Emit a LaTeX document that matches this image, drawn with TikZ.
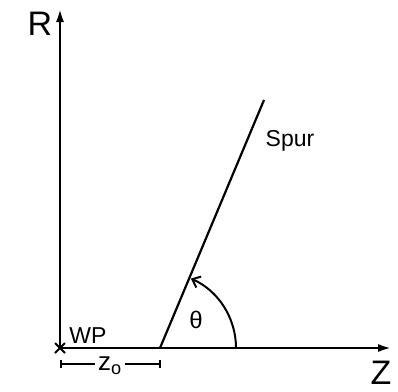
\documentclass[tikz,border=0pt]{standalone}
\usepackage{fontspec}
\setmainfont{Liberation Sans}
\usetikzlibrary{arrows.meta}
\begin{document}
\begin{tikzpicture}[x=1pt,y=-1pt,
  axis/.style={line width=2.8pt,-{Latex[length=14pt,width=8pt]}},
  trackline/.style={line width=2.2pt},
  dimline/.style={line width=1.8pt,{Bar[width=8pt]}-{Bar[width=8pt]}},
  lbl/.style={inner sep=0pt,font=\fontsize{#1pt}{#1pt}\selectfont},
  lbl/.default=20]
\useasboundingbox (0,0) rectangle (398,391);
\coordinate (O) at (60,348);
\coordinate (Rtop) at (60,8);
\coordinate (Zend) at (392,348);
\coordinate (B) at (160,348);
\coordinate (T) at (264,100);
\coordinate (A0) at (236,348);
\draw[axis] (O) -- (Rtop);
\draw[axis] (O) -- (Zend);
\draw[trackline] (B) -- (T);
\draw[line width=2pt,-{Straight Barb[length=7pt,width=12pt]}] (A0) arc[start angle=0,end angle=-66,radius=76];
\draw[line width=1.8pt] (55,343) -- (65,353) (55,353) -- (65,343);
\coordinate (D1) at (60,364);
\coordinate (D2) at (161,364);
\draw[dimline] (D1) -- (D2);
\node[lbl=26,fill=white,inner xsep=3pt] (z0) at (110,366) {z\textsubscript{o}};
\node[lbl=34] (Rl) at (40,24) {R};
\node[lbl=34] (Zl) at (381,373) {Z};
\node[lbl=23] (sp) at (290,141) {Spur};
\node[lbl=24] (th) at (196,320) {θ};
\node[lbl=23] (wp) at (88,336) {WP};
\end{tikzpicture}
\end{document}
